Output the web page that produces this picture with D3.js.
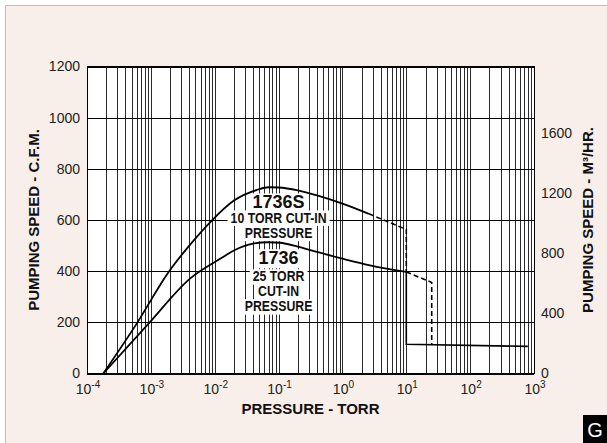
<!DOCTYPE html>
<html lang="en">
<head>
<meta charset="utf-8">
<title>Pumping speed vs pressure</title>
<script src="https://d3js.org/d3.v7.min.js"></script>
<style>
  body { margin: 0; background: #fff; }
  svg { display: block; font-family: "Liberation Sans", Arial, sans-serif; }
  .grid line { shape-rendering: crispEdges; }
  .grid path { display: none; }
</style>
</head>
<body>
<script>
// 1736S curve (10 torr cut-in)
var pres1736S  = [1.8e-4, 6e-4, 1.9e-3, 4e-3, 9e-3, 0.02, 0.045, 0.07, 0.1, 0.2, 0.4, 1, 2.6];
var speed1736S = [0, 195, 397, 500, 598, 676, 717, 728, 727, 716, 696, 664, 624];
var dashPres1736S  = [2.6, 10, 10];
var dashSpeed1736S = [624, 563, 397];

// 1736 curve (25 torr cut-in)
var pres1736  = [1.8e-4, 9.2e-4, 4.1e-3, 0.0135, 0.02, 0.04, 0.07, 0.105, 0.2, 0.4, 1, 2.7, 10];
var speed1736 = [0, 195, 371, 455, 481, 508, 513, 511, 496, 475, 449, 423, 397];
var dashPres1736  = [10, 25, 25];
var dashSpeed1736 = [397, 356, 114];

// drop at 10 torr and the backing line afterwards
var dropPres  = [10, 10, 800];
var dropSpeed = [397, 114, 106];

var yTicks  = [0, 200, 400, 600, 800, 1000, 1200];
var y2Ticks = [0, 400, 800, 1200, 1600];
var xDecades = [-4, -3, -2, -1, 0, 1, 2, 3];
var CFM_TO_M3H = 1.699;

var width = 607, height = 443;
var pL = 87, pR = 534, pT = 66.5, pB = 373.5;

var svg = d3.select("body").append("svg")
    .attr("width", width)
    .attr("height", height);

// panel background with thin blue frame
svg.append("rect")
    .attr("x", 5.5).attr("y", 5.5)
    .attr("width", width).attr("height", height)
    .attr("fill", "#f8eeea")
    .attr("stroke", "#a9c3da")
    .attr("stroke-width", 1);

var x = d3.scaleLog().domain([1e-4, 1e3]).range([pL, pR]);
var y = d3.scaleLinear().domain([0, 1200]).range([pB, pT]);
var y2 = d3.scaleLinear().domain([0, 1200 * CFM_TO_M3H]).range([pB, pT]);

svg.append("rect")
    .attr("x", pL).attr("y", pT)
    .attr("width", pR - pL).attr("height", pB - pT)
    .attr("fill", "#fff");

// vertical grid, every 1..9 x 10^n
var minor = [];
xDecades.forEach(function(e) {
    for (var m = 1; m < 10; m++) {
        if (e === 3 && m > 1) break;
        minor.push(m * Math.pow(10, e));
    }
});
svg.append("g")
    .attr("class", "grid")
    .attr("transform", "translate(0," + pB + ")")
    .call(d3.axisBottom(x).tickValues(minor).tickSize(-(pB - pT)).tickFormat(""))
    .selectAll("line").attr("stroke", "#2a2a2a");

// horizontal grid + left labels
var gy = svg.append("g")
    .attr("class", "grid")
    .attr("transform", "translate(" + pL + ",0)")
    .call(d3.axisLeft(y).tickValues(yTicks).tickSize(-(pR - pL)).tickPadding(7)
        .tickFormat(d3.format("d")));
gy.selectAll("line").attr("stroke", "#000");
gy.selectAll("text").attr("font-size", 14).attr("fill", "#222")
    .attr("font-family", "Liberation Sans, Arial, sans-serif");

// right axis in m3/hr
var gy2 = svg.append("g")
    .attr("class", "grid")
    .attr("transform", "translate(" + pR + ",0)")
    .call(d3.axisRight(y2).tickValues(y2Ticks).tickSize(0).tickPadding(7)
        .tickFormat(d3.format("d")));
gy2.selectAll("text").attr("font-size", 14).attr("fill", "#222")
    .attr("font-family", "Liberation Sans, Arial, sans-serif");

// plot frame
svg.append("rect")
    .attr("x", pL).attr("y", pT)
    .attr("width", pR - pL).attr("height", pB - pT)
    .attr("fill", "none").attr("stroke", "#000").attr("shape-rendering", "crispEdges");

// x tick labels as 10^n
xDecades.forEach(function(e) {
    var t = svg.append("text")
        .attr("x", x(Math.pow(10, e)) + 1)
        .attr("y", 394)
        .attr("text-anchor", "middle")
        .attr("font-size", 14)
        .attr("fill", "#222");
    t.append("tspan").text("10");
    t.append("tspan").attr("dy", -6).attr("font-size", 10)
        .text(e < 0 ? "-" + (-e) : String(e));
});

// annotation boxes (condensed lettering like the original)
var notes = [
    { lines: ["1736S", "10 TORR CUT-IN", "PRESSURE"], sizes: [18, 15, 15], sx: [1, 0.82, 0.82], p: 0.1, s: [645, 590, 530] },
    { lines: ["1736", "25 TORR", "CUT-IN", "PRESSURE"], sizes: [18, 15, 15, 15], sx: [1, 0.82, 0.82, 0.82], p: 0.1, s: [427, 360, 302, 243] }
];
var noteG = svg.append("g");
var noteTexts = [];
notes.forEach(function(n) {
    n.lines.forEach(function(line, i) {
        var t = noteG.append("text")
            .attr("transform", "translate(" + x(n.p) + "," + y(n.s[i]) + ") scale(" + n.sx[i] + ",1)")
            .attr("text-anchor", "middle")
            .attr("font-size", n.sizes[i])
            .attr("font-weight", "bold")
            .attr("fill", "#111")
            .text(line);
        noteTexts.push({ t: t, sx: n.sx[i], cx: x(n.p), cy: y(n.s[i]) });
    });
});
noteTexts.forEach(function(o) {
    var b = o.t.node().getBBox();
    noteG.insert("rect", "text")
        .attr("x", o.cx + b.x * o.sx - 3).attr("y", o.cy + b.y + 1)
        .attr("width", b.width * o.sx + 6).attr("height", b.height - 1)
        .attr("fill", "#fff");
});

// curves
var line = d3.line()
    .x(function(d) { return x(d[0]); })
    .y(function(d) { return y(d[1]); });
var smooth = d3.line()
    .x(function(d) { return x(d[0]); })
    .y(function(d) { return y(d[1]); })
    .curve(d3.curveMonotoneX);

function zip(a, b) { return a.map(function(v, i) { return [v, b[i]]; }); }

svg.append("path").attr("d", smooth(zip(pres1736S, speed1736S)))
    .attr("fill", "none").attr("stroke", "#000").attr("stroke-width", 1.8);
svg.append("path").attr("d", smooth(zip(pres1736, speed1736)))
    .attr("fill", "none").attr("stroke", "#000").attr("stroke-width", 1.8);
svg.append("path").attr("d", line(zip(dashPres1736S, dashSpeed1736S)))
    .attr("fill", "none").attr("stroke", "#000").attr("stroke-width", 1.6)
    .attr("stroke-dasharray", "5,3");
svg.append("path").attr("d", line(zip(dashPres1736, dashSpeed1736)))
    .attr("fill", "none").attr("stroke", "#000").attr("stroke-width", 1.6)
    .attr("stroke-dasharray", "5,3");
svg.append("path").attr("d", line(zip(dropPres, dropSpeed)))
    .attr("fill", "none").attr("stroke", "#000").attr("stroke-width", 1.6);

// axis titles
svg.append("text")
    .attr("x", (pL + pR) / 2).attr("y", 414)
    .attr("text-anchor", "middle")
    .attr("font-size", 15).attr("font-weight", "bold").attr("fill", "#111")
    .text("PRESSURE - TORR");
svg.append("text")
    .attr("transform", "translate(39," + (pT + pB) / 2 + ") rotate(-90)")
    .attr("text-anchor", "middle")
    .attr("font-size", 15).attr("font-weight", "bold").attr("fill", "#111")
    .text("PUMPING SPEED - C.F.M.");
svg.append("text")
    .attr("transform", "translate(593," + (pT + pB) / 2 + ") rotate(-90)")
    .attr("text-anchor", "middle")
    .attr("font-size", 15).attr("font-weight", "bold").attr("fill", "#111")
    .text("PUMPING SPEED - M³/HR.");

// figure tag
svg.append("rect")
    .attr("x", 583).attr("y", 415).attr("width", 24).attr("height", 28)
    .attr("fill", "#000");
svg.append("text")
    .attr("x", 595).attr("y", 437)
    .attr("text-anchor", "middle")
    .attr("font-size", 20).attr("fill", "#fff")
    .text("G");
</script>
</body>
</html>
